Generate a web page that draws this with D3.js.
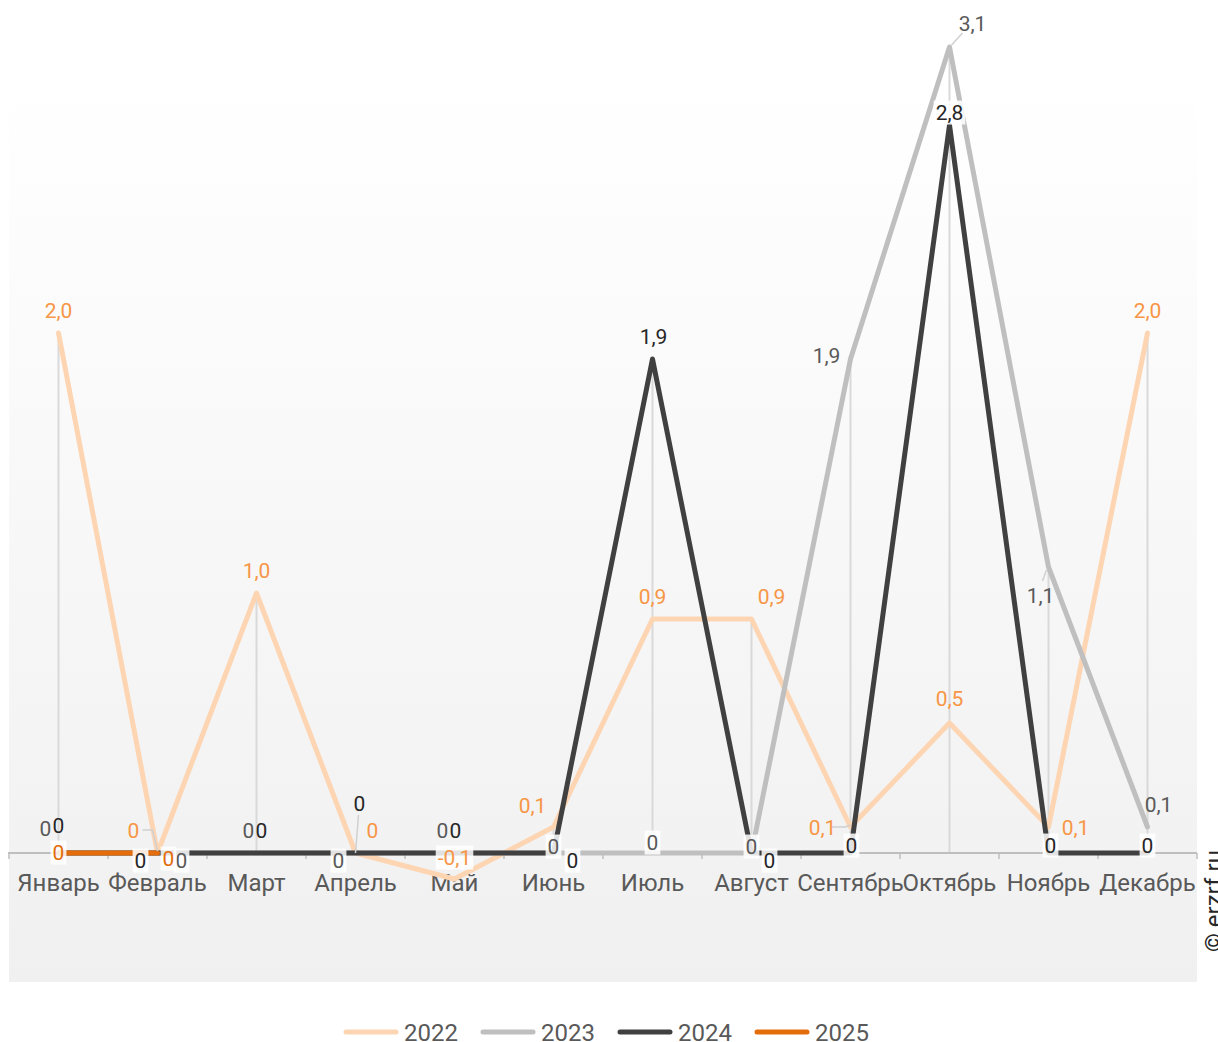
<!DOCTYPE html>
<html><head><meta charset="utf-8">
<script src="https://cdn.jsdelivr.net/npm/d3@7"></script>
<style>body{margin:0;background:#fff}svg{display:block;font-family:Roboto,"Noto Sans",sans-serif}</style>
</head><body><svg id="c" width="1218" height="1042"></svg>
<script>
const months = ["Январь","Февраль","Март","Апрель","Май","Июнь","Июль","Август","Сентябрь","Октябрь","Ноябрь","Декабрь"];
const years = ["2022","2023","2024","2025"];
const v2022 = [2.0, 0, 1.0, 0, -0.1, 0.1, 0.9, 0.9, 0.1, 0.5, 0.1, 2.0];
const v2023 = [0, 0, 0, 0, 0, 0, 0, 0, 1.9, 3.1, 1.1, 0.1];
const v2024 = [0, 0, 0, 0, 0, 0, 1.9, 0, 0, 2.8, 0, 0];
const v2025 = [0, 0];
const seriesValues = [v2022, v2023, v2024, v2025];

// styling / label layout (not data)
const lineColors = ["#fdd5b2", "#bfbfbf", "#404040", "#e46c0a"];
const labelColors = ["#f79646", "#595959", "#262626", "#e46c0a"];
const labelLayout = [
  [[0,-23],[-24,-23,"H"],[0,-23],[17,-23],[0,-22,"B"],[-21,-22],[0,-23],[20,-23],[-28,0,"H"],[0,-25],[27,0],[0,-23]],
  [[-13,-25],[24,7,"B"],[-8,-23],[-17,7,"B"],[-12,-23],[0,-7,"B"],[0,-11,"B"],[0,-7,"B"],[-24,-4],[23,-24,"D"],[-8,28,"U"],[11,-23]],
  [[0,-28],[-17,7,"B"],[5,-23],[4,-50,"V"],[1,-23],[19,7,"B"],[1,-23],[18,7,"B"],[1,-8,"B"],[0,-13,"B"],[2,-8,"B"],[0,-8,"B"]],
  [[0,-1,"B"],[11,5,"B"]]
];

const svg = d3.select("#c");
const x = d3.scaleBand().domain(months).range([9, 1197]).padding(0);
const cx = m => x(m) + x.bandwidth()/2;
const y = d3.scaleLinear().domain([0, 3.1]).range([853, 47]);

// plot background gradient
const defs = svg.append("defs");
const g = defs.append("linearGradient").attr("id","bg").attr("x1",0).attr("y1",0).attr("x2",0).attr("y2",1);
g.append("stop").attr("offset","0%").attr("stop-color","#ffffff");
g.append("stop").attr("offset","100%").attr("stop-color","#f0f0f0");
svg.append("rect").attr("x",9).attr("y",80).attr("width",1188).attr("height",902).attr("fill","url(#bg)");

// drop lines
months.forEach((m,i) => {
  const vals = seriesValues.map(s => s[i]).filter(v => v !== undefined);
  const mx = d3.max(vals);
  if (mx > 0) svg.append("line").attr("x1",cx(m)).attr("x2",cx(m)).attr("y1",y(mx)).attr("y2",y(0))
    .attr("stroke","#d9d9d9").attr("stroke-width",2);
});

// x axis
const axis = d3.axisBottom(x).tickSize(0).tickPadding(0);
const ax = svg.append("g").attr("transform",`translate(0,${y(0)})`).call(axis);
ax.select(".domain").remove();
ax.selectAll("text").attr("font-size",24).attr("fill","#595959").attr("y",38).attr("dy",0).attr("font-family","Roboto");
svg.append("line").attr("x1",8).attr("x2",1197).attr("y1",y(0)).attr("y2",y(0)).attr("stroke","#bfbfbf").attr("stroke-width",2);
const bounds = months.map(m => x(m)).concat([x(months[11]) + x.bandwidth()]);
svg.selectAll(".tk").data(bounds).enter().append("line")
  .attr("x1",d=>d).attr("x2",d=>d).attr("y1",y(0)).attr("y2",y(0)+6).attr("stroke","#bfbfbf").attr("stroke-width",1.5);

// lines
const line = d3.line().x((d,i) => cx(months[i])).y(d => y(d));
seriesValues.forEach((s,k) => {
  svg.append("path").attr("d", line(s)).attr("fill","none").attr("stroke",lineColors[k])
    .attr("stroke-width",5).attr("stroke-linejoin","round").attr("stroke-linecap","round");
});

// labels
const fmt = v => v === 0 ? "0" : d3.format(".1f")(v).replace(".", ",").replace("−","-");
seriesValues.forEach((s,k) => {
  s.forEach((v,i) => {
    const px = cx(months[i]), py = y(v);
    const [dx, dy, flag] = labelLayout[k][i];
    const lx = px + dx, ly = py + dy;
    const txt = fmt(v);
    let pts = null;
    if (flag === "H") { const sx = lx + (dx < 0 ? 9 : -9); const ex = px + (dx < 0 ? -5 : 5); pts = [[sx, ly], [ex, ly], [px, py - 2]]; }
    if (flag === "D") pts = [[lx - 10, ly + 10], [px + 2, py - 2]];
    if (flag === "U") pts = [[lx + 2, ly - 14], [px - 2, py + 3]];
    if (flag === "V") pts = [[lx - 1, ly + 12], [px, py]];
    if (pts) svg.append("path").attr("d", d3.line()(pts)).attr("fill","none").attr("stroke","#d0d0d0").attr("stroke-width",1.5);
    const t = svg.append("text").attr("x", lx).attr("y", ly).attr("dy","0.36em")
      .attr("text-anchor","middle").attr("font-size",21).attr("fill",labelColors[k]).text(txt);
    if (flag === "B") {
      const bb = t.node().getBBox();
      svg.insert("rect", () => t.node()).attr("x", bb.x-2).attr("y", bb.y).attr("width", bb.width+4).attr("height", bb.height)
        .attr("fill","#ffffff").attr("opacity",0.85);
    }
  });
});

// legend
const lg = svg.append("g").attr("transform","translate(343,1032)");
years.forEach((yr,k) => {
  const gx = k * 137;
  lg.append("line").attr("x1",gx+3).attr("x2",gx+53).attr("y1",0).attr("y2",0)
    .attr("stroke",lineColors[k]).attr("stroke-width",5).attr("stroke-linecap","round");
  lg.append("text").attr("x",gx+61).attr("y",0).attr("dy","0.36em").attr("font-size",24).attr("fill","#595959").text(yr);
});

// watermark
svg.append("text").attr("transform","translate(1222,952) rotate(-90)").attr("font-size",24).attr("fill","#262626").text("© erzrf.ru");
</script></body></html>
